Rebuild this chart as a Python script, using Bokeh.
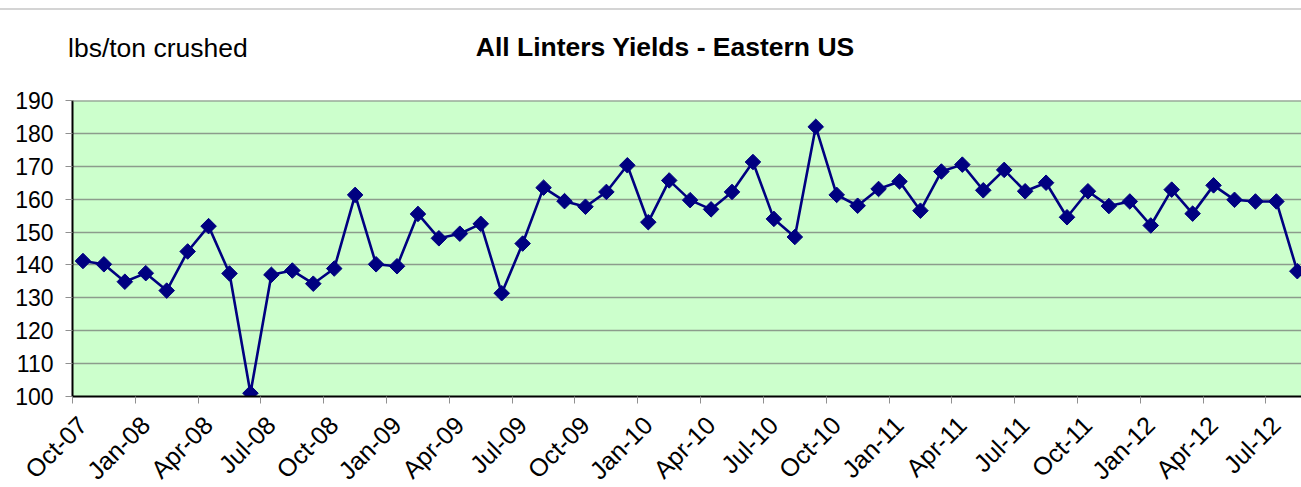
from bokeh.plotting import figure
from bokeh.models import FixedTicker, Range1d, Span, Div, LinearAxis
from bokeh.layouts import column
from bokeh.embed import file_html
from bokeh.resources import INLINE
import math

# ---- data ----
months = ["Oct-07", "Nov-07", "Dec-07", "Jan-08", "Feb-08", "Mar-08", "Apr-08", "May-08", "Jun-08",
          "Jul-08", "Aug-08", "Sep-08", "Oct-08", "Nov-08", "Dec-08", "Jan-09", "Feb-09", "Mar-09",
          "Apr-09", "May-09", "Jun-09", "Jul-09", "Aug-09", "Sep-09", "Oct-09", "Nov-09", "Dec-09",
          "Jan-10", "Feb-10", "Mar-10", "Apr-10", "May-10", "Jun-10", "Jul-10", "Aug-10", "Sep-10",
          "Oct-10", "Nov-10", "Dec-10", "Jan-11", "Feb-11", "Mar-11", "Apr-11", "May-11", "Jun-11",
          "Jul-11", "Aug-11", "Sep-11", "Oct-11", "Nov-11", "Dec-11", "Jan-12", "Feb-12", "Mar-12",
          "Apr-12", "May-12", "Jun-12", "Jul-12", "Aug-12"]
yields = [141.2, 140.2, 134.9, 137.5, 132.2, 144.1, 151.8, 137.4, 101.0,
          137.0, 138.3, 134.3, 138.9, 161.3, 140.2, 139.6, 155.5, 148.1,
          149.5, 152.5, 131.4, 146.5, 163.5, 159.4, 157.7, 162.2, 170.3,
          153.0, 165.7, 159.7, 156.9, 162.2, 171.3, 154.0, 148.5, 182.0,
          161.3, 158.0, 163.1, 165.4, 156.5, 168.4, 170.5, 162.7, 168.9,
          162.4, 165.0, 154.5, 162.4, 157.9, 159.3, 152.0, 162.9, 155.6,
          164.2, 159.8, 159.3, 159.3, 138.1]
tick_labels = ["Oct-07", "Jan-08", "Apr-08", "Jul-08", "Oct-08", "Jan-09", "Apr-09", "Jul-09",
               "Oct-09", "Jan-10", "Apr-10", "Jul-10", "Oct-10", "Jan-11", "Apr-11", "Jul-11",
               "Oct-11", "Jan-12", "Apr-12", "Jul-12"]
y_ticks = [100, 110, 120, 130, 140, 150, 160, 170, 180, 190]
title_text = "All Linters Yields - Eastern US"
unit_text = "lbs/ton crushed"

# month slots: each month occupies one unit, point at slot centre
xs = [i + 0.5 for i in range(len(months))]
tick_pos = [months.index(t) for t in tick_labels]

FONT = "Liberation Sans"
HEAD_H = 70
X_END = 58.7          # visible part of the last month slot
LABEL_SHIFT = 0.48    # rotated labels end a little right of their tick (Excel style)

head = Div(
    width=1301, height=HEAD_H, margin=0,
    text=(
        f'<div style="position:relative;width:1301px;height:{HEAD_H}px;font-family:\'{FONT}\';color:black;">'
        '<div style="position:absolute;left:0;top:8px;width:1301px;height:0;border-top:2px solid #D4D4D4;"></div>'
        f'<span style="position:absolute;left:68px;top:33px;font-size:26.5px;line-height:30px;white-space:nowrap;">{unit_text}</span>'
        f'<span style="position:absolute;left:665px;top:32px;transform:translateX(-50%);font-size:26.5px;'
        f'font-weight:bold;line-height:30px;white-space:nowrap;">{title_text}</span>'
        '</div>'
    ),
)

p = figure(frame_width=1229, frame_height=296, output_backend="svg", toolbar_location=None,
           x_range=Range1d(0, X_END), y_range=Range1d(100, 190),
           min_border_left=72, min_border_right=0, min_border_top=30, min_border_bottom=0,
           margin=0)
p.title.visible = False
p.background_fill_color = "#CCFFCC"
p.border_fill_color = "white"
p.outline_line_color = None

p.add_layout(Span(location=190, dimension="width", line_color="#808080", line_width=2))

p.line(xs, yields, line_color="#000080", line_width=2.6)
p.scatter(xs, yields, marker="square", angle=math.pi / 4, size=11,
          fill_color="#000080", line_color="#000080")

# main x axis: line and tick marks only (its own labels are not drawn)
xa = p.xaxis[0]
xa.ticker = FixedTicker(ticks=tick_pos)
xa.major_label_text_color = None
xa.major_label_text_font_size = "1px"
xa.major_label_standoff = 0

# label axis: same ticks, labels set slightly to the right like Excel
p.extra_x_ranges["labels"] = Range1d(-LABEL_SHIFT, X_END - LABEL_SHIFT)
la = LinearAxis(x_range_name="labels", ticker=FixedTicker(ticks=tick_pos),
                major_label_overrides={pos: lab for pos, lab in zip(tick_pos, tick_labels)},
                major_label_orientation=math.pi / 4,
                axis_line_color=None, major_tick_line_color=None, minor_tick_line_color=None,
                major_tick_out=0, major_tick_in=0,
                major_label_text_font=FONT, major_label_text_font_size="25px",
                major_label_text_color="black", major_label_standoff=17)
p.add_layout(la, "below")

ya = p.yaxis[0]
ya.ticker = FixedTicker(ticks=y_ticks)
ya.major_label_text_font_size = "23px"
ya.major_label_text_color = "black"
ya.major_label_standoff = 12
ya.major_label_text_font = FONT
for ax in (xa, ya):
    ax.axis_line_color = "black"
    ax.axis_line_width = 2
    ax.major_tick_line_color = "#909090"
    ax.major_tick_out = 7
    ax.major_tick_in = 0
    ax.minor_tick_line_color = None

p.xgrid.grid_line_color = None
p.ygrid.ticker = FixedTicker(ticks=y_ticks)
p.ygrid.grid_line_color = "#8C9C8C"
p.ygrid.grid_line_width = 1.5

layout = column(head, p, spacing=0, margin=0)
open("out.html", "w").write(file_html(layout, INLINE))
